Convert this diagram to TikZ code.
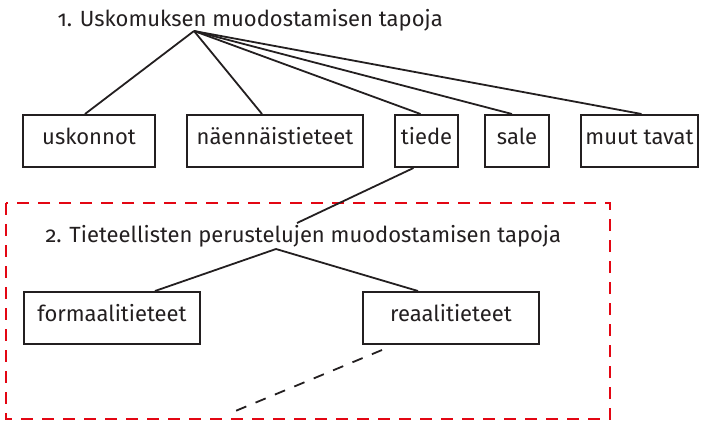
\documentclass[tikz,border=0pt]{standalone}
\usepackage{fontspec}
\setmainfont[Numbers=OldStyle]{Fira Sans}
\usetikzlibrary{positioning}
\definecolor{inkgray}{HTML}{231F20}
\definecolor{framered}{HTML}{E30613}

\begin{document}
\begin{tikzpicture}[x=1pt, y=-1pt, font=\fontsize{22}{26}\selectfont, text=inkgray,
    box/.style={draw=inkgray, line width=2pt, minimum height=52pt, inner sep=0pt,
        text height=15pt, text depth=8pt},
    link/.style={draw=inkgray, line width=1.8pt}]
    \useasboundingbox (0,0) rectangle (704,422);

    % Level 1
    \node[anchor=base west] (title1) at (54,27) {1. Uskomuksen muodostamisen tapoja};
    \coordinate (top1) at (194,31);

    \node[box, minimum width=132pt] (uskonnot) at (89,141) {uskonnot};
    \node[box, minimum width=176pt] (naennais) at (275,141) {näennäistieteet};
    \node[box, minimum width=63pt] (tiede) at (426.5,141) {tiede};
    \node[box, minimum width=64pt] (sale) at (517,141) {sale};
    \node[box, minimum width=117pt] (muut) at (639.5,141) {muut tavat};

    \draw[link] (top1) -- ([xshift=-4pt]uskonnot.north);
    \draw[link] (top1) -- ([xshift=-13pt]naennais.north);
    \draw[link] (top1) -- ([xshift=-6pt]tiede.north);
    \draw[link] (top1) -- ([xshift=-5pt]sale.north);
    \draw[link] (top1) -- ([xshift=2pt]muut.north);

    % Level 2
    \draw[framered, line width=2pt, dash pattern=on 12pt off 9pt] (6,203) rectangle (610,419);

    \node[anchor=base west] (title2) at (42,242) {2. Tieteellisten perustelujen muodostamisen tapoja};
    \coordinate (in2) at (297,223);
    \coordinate (top2) at (276,249);

    \node[box, minimum width=176pt] (formaali) at (112,318) {formaalitieteet};
    \node[box, minimum width=176pt] (reaali) at (451,318) {reaalitieteet};
    \coordinate (more) at (233,412);

    \draw[link] ([xshift=-13pt]tiede.south) -- (in2);
    \draw[link] (top2) -- ([xshift=43pt]formaali.north);
    \draw[link] (top2) -- ([xshift=-33pt]reaali.north);
    \draw[link, dash pattern=on 11pt off 10pt] ([shift={(-69pt,-5pt)}]reaali.south) -- (more);
\end{tikzpicture}
\end{document}
